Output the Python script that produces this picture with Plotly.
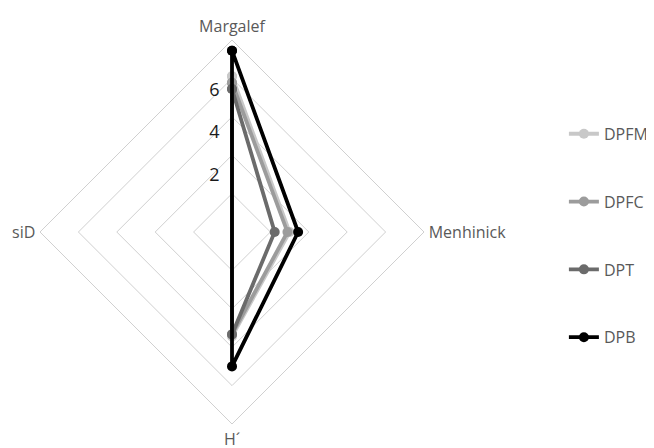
import plotly.graph_objects as go

# -----------------------------
# DATA
# -----------------------------
indices = ["Margalef", "Menhinick", "H´", "siD"]
dpfm = [7.3, 2.7, 4.9, 0.0]
dpfc = [7.0, 2.6, 4.8, 0.0]
dpt = [6.7, 2.0, 4.8, 0.0]
dpb = [8.5, 3.1, 6.3, 0.0]

series = [("DPFM", dpfm, "#c8c8c8"),
          ("DPFC", dpfc, "#9c9c9c"),
          ("DPT", dpt, "#6b6b6b"),
          ("DPB", dpb, "#000000")]

ring_vals = [1.8, 3.6, 5.4, 7.2, 9.0]
label_vals = [2, 4, 6]

# page body adds 8px, so centre sits at 224 in figure coords
W, H = 654, 448
cx, cy, rad = 224, 224, 192
dom_x = [(cx - rad) / W, (cx + rad) / W]
dom_y = [1 - (cy + rad) / H, 1 - (cy - rad) / H]

fig = go.Figure()

for name, vals, col in series:
    fig.add_trace(go.Scatterpolar(
        r=vals + vals[:1],
        theta=indices + indices[:1],
        mode="lines+markers",
        name=name,
        legendgroup=name,
        line=dict(color=col, width=3.8),
        marker=dict(color=col, size=10),
        subplot="polar",
    ))

# empty trace so the label subplot is drawn
fig.add_trace(go.Scatterpolar(r=[None], theta=[indices[0]], subplot="polar2",
                              showlegend=False, hoverinfo="skip"))

# pad labels so they sit left of the axis line
pad = "\u00a0" * 2
label_text = [str(v) + pad for v in label_vals]

fig.update_layout(
    width=W, height=H,
    margin=dict(l=0, r=0, t=0, b=0),
    paper_bgcolor="white",
    font=dict(family="Open Sans", size=16, color="#595959"),
    polar=dict(
        domain=dict(x=dom_x, y=dom_y),
        gridshape="linear",
        bgcolor="rgba(0,0,0,0)",
        radialaxis=dict(range=[0, 9], tickvals=ring_vals, showticklabels=False,
                        showline=False, ticks="", gridcolor="#d0d0d0", gridwidth=1),
        angularaxis=dict(rotation=90, direction="clockwise", categoryarray=indices,
                         type="category", showgrid=False, linecolor="#d0d0d0", linewidth=1,
                         ticks="outside", ticklen=1, tickcolor="rgba(0,0,0,0)",
                         tickfont=dict(size=16, color="#595959")),
    ),
    polar2=dict(
        domain=dict(x=dom_x, y=dom_y),
        gridshape="linear",
        bgcolor="rgba(0,0,0,0)",
        radialaxis=dict(range=[-0.68, 8.35], angle=90, tickangle=90, side="counterclockwise",
                        tickvals=label_vals, ticktext=label_text,
                        showgrid=False, showline=False, ticks="",
                        tickfont=dict(size=18, color="#1a1a1a")),
        angularaxis=dict(rotation=90, direction="clockwise", visible=False,
                         categoryarray=indices, type="category"),
    ),
    legend=dict(x=0.85, y=0.757, xanchor="left", yanchor="top",
                tracegroupgap=44, font=dict(size=16, color="#595959"),
                bgcolor="rgba(0,0,0,0)"),
)

fig.write_html("out.html")
